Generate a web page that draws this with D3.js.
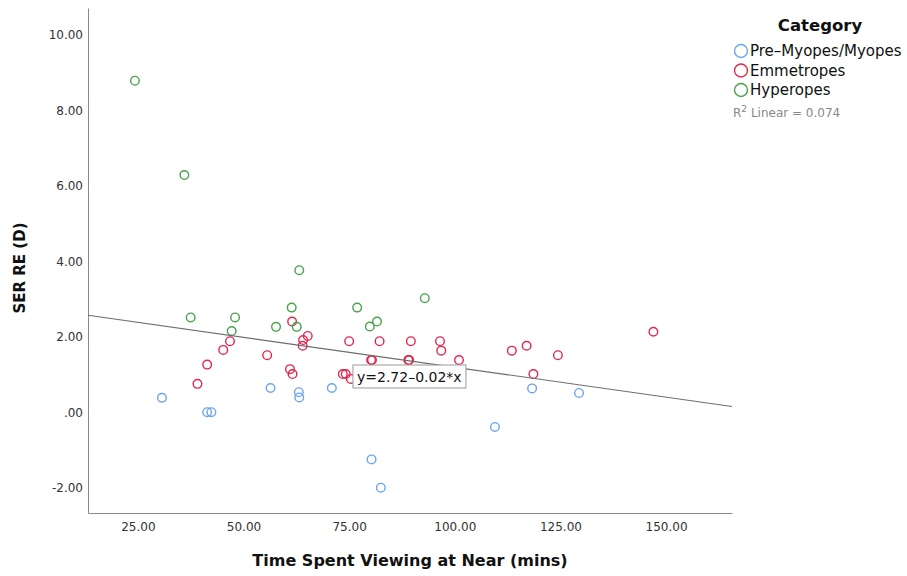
<!DOCTYPE html>
<html>
  <head>
    <meta http-equiv="content-type" content="text/html; charset=UTF-8">
    <title>SER vs near viewing</title>
    <script type='text/javascript' src='https://d3js.org/d3.v7.min.js'></script>
    <style type='text/css'>
      body { margin: 0; background-color: white; }
      text { font-family: "DejaVu Sans", sans-serif; }
    </style>
  </head>
  <body>
    <script type='text/javascript'>
      // values: [minutes, SER]
      var myopes = [
        [30.7, 0.39], [41.4, 0.01], [42.4, 0.01], [56.4, 0.65], [63.1, 0.54],
        [63.2, 0.40], [70.9, 0.65], [80.3, -1.24], [82.5, -1.99], [109.5, -0.38],
        [118.3, 0.64], [129.4, 0.52]
      ];
      var emmetropes = [
        [39.1, 0.76], [41.4, 1.27], [45.2, 1.66], [46.8, 1.89], [55.6, 1.52],
        [61.0, 1.15], [61.6, 1.02], [61.5, 2.41], [65.2, 2.03], [64.1, 1.92],
        [64.0, 1.77], [73.5, 1.02], [74.2, 1.02], [75.4, 0.89], [75.0, 1.89],
        [82.2, 1.89], [80.2, 1.39], [80.4, 1.39], [89.0, 1.39], [89.2, 1.39],
        [89.6, 1.89], [96.5, 1.89], [96.8, 1.64], [101.0, 1.39], [113.5, 1.64],
        [117.0, 1.77], [118.6, 1.02], [124.4, 1.52], [147.0, 2.14]
      ];
      var hyperopes = [
        [24.3, 8.79], [36.0, 6.29], [37.5, 2.52], [48.0, 2.52], [47.2, 2.16],
        [57.7, 2.27], [61.4, 2.78], [62.6, 2.27], [63.2, 3.77], [76.9, 2.78],
        [79.9, 2.28], [81.6, 2.41], [92.9, 3.03]
      ];
      var categories = ["Pre\u2013Myopes/Myopes", "Emmetropes", "Hyperopes"];
      var colors = ["#6aa6ee", "#e2274f", "#45a34a"];
      var xTicks = [25, 50, 75, 100, 125, 150];
      var yTicks = [-2, 0, 2, 4, 6, 8, 10];
      var fitIntercept = 2.785, fitSlope = -0.01585;
      var fitLabel = "y=2.72\u20130.02*x";
      var r2Label = "Linear = 0.074";

      var w = 907, h = 576;
      var plotLeft = 88, plotRight = 732, plotTop = 8, plotBottom = 513;

      var svg = d3.select("body").append("svg")
        .attr("width", w).attr("height", h);

      var x = d3.scaleLinear().domain([13.2, 165.6]).range([plotLeft, plotRight]);
      var y = d3.scaleLinear().domain([-2.66, 10.715]).range([plotBottom, plotTop]);

      function fmt(d) { return d === 0 ? ".00" : d.toFixed(2); }

      var xAxis = svg.append("g")
        .attr("transform", "translate(0," + plotBottom + ")")
        .call(d3.axisBottom(x).tickValues(xTicks).tickSize(0).tickSizeOuter(0).tickPadding(9).tickFormat(fmt));
      var yAxis = svg.append("g")
        .attr("transform", "translate(" + plotLeft + ",0)")
        .call(d3.axisLeft(y).tickValues(yTicks).tickSize(0).tickSizeOuter(0).tickPadding(5).tickFormat(fmt));
      [xAxis, yAxis].forEach(function(a) {
        a.select(".domain").attr("stroke", "#8a8a8a");
        a.selectAll("text").attr("fill", "#333").style("font-size", "12px")
          .style("font-family", "'DejaVu Sans', sans-serif");
      });

      // axis titles
      svg.append("text").attr("x", (plotLeft + plotRight) / 2).attr("y", 566)
        .attr("text-anchor", "middle").style("font-weight", "bold").style("font-size", "16px")
        .attr("fill", "#111").text("Time Spent Viewing at Near (mins)");
      svg.append("text").attr("transform", "translate(25,268) rotate(-90)")
        .attr("text-anchor", "middle").style("font-weight", "bold").style("font-size", "15px")
        .attr("fill", "#111").text("SER RE (D)");

      // points
      var series = [myopes, emmetropes, hyperopes];
      series.forEach(function(pts, i) {
        svg.append("g").selectAll("circle").data(pts).enter().append("circle")
          .attr("cx", function(d) { return x(d[0]); })
          .attr("cy", function(d) { return y(d[1]); })
          .attr("r", 4.3)
          .attr("fill", "none")
          .attr("stroke", colors[i])
          .attr("stroke-width", 1.4);
      });

      // fit line
      var xd = x.domain();
      svg.append("line")
        .attr("x1", x(xd[0])).attr("y1", y(fitIntercept + fitSlope * xd[0]))
        .attr("x2", x(xd[1])).attr("y2", y(fitIntercept + fitSlope * xd[1]))
        .attr("stroke", "#6e6e6e").attr("stroke-width", 1.1);

      // fit label box
      var lb = svg.append("g").attr("transform", "translate(" + x(75.9) + "," + y(1.26) + ")");
      lb.append("rect").attr("width", 113).attr("height", 23)
        .attr("fill", "white").attr("stroke", "#999").attr("stroke-width", 1);
      lb.append("text").attr("x", 4).attr("y", 17).style("font-size", "14px")
        .attr("fill", "#111").text(fitLabel);

      // legend
      svg.append("text").attr("x", 820).attr("y", 31).attr("text-anchor", "middle")
        .style("font-weight", "bold").style("font-size", "16.5px").attr("fill", "#111").text("Category");
      categories.forEach(function(c, i) {
        var yy = 51 + i * 19.5;
        svg.append("circle").attr("cx", 741).attr("cy", yy).attr("r", 6.5)
          .attr("fill", "none").attr("stroke", colors[i]).attr("stroke-width", 1.4);
        svg.append("text").attr("x", 750).attr("y", yy + 5).style("font-size", "15px")
          .attr("fill", "#111").text(c);
      });
      var r2 = svg.append("text").attr("x", 733).attr("y", 117).style("font-size", "12px").attr("fill", "#888");
      r2.append("tspan").text("R");
      r2.append("tspan").attr("dy", -5).style("font-size", "9px").text("2");
      r2.append("tspan").attr("dy", 5).text(" " + r2Label);
    </script>
  </body>
</html>
